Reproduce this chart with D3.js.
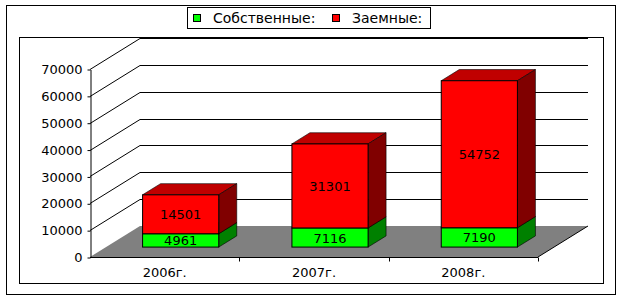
<!DOCTYPE html>
<html>
<head>
<meta charset="utf-8">
<script src="https://cdn.jsdelivr.net/npm/d3@7"></script>
<style>
  body { margin: 0; background: #fff; }
  text { font-family: "DejaVu Sans", sans-serif; }
</style>
</head>
<body>
<script>
// data
const years = ["2006г.", "2007г.", "2008г."]
const own = [4961, 7116, 7190]        // Собственные
const borrowed = [14501, 31301, 54752] // Заемные
const seriesNames = ["Собственные:", "Заемные:"]
const yTicks = [0, 10000, 20000, 30000, 40000, 50000, 60000, 70000]

const W = 625, H = 300
// 3d depth of the floor / walls
const DX = 50, DY = 31
// bar sits between these fractions of depth
const z0 = 0.32, z1 = 0.68

const colors = [
  { front: "#00ff00", side: "#008000", top: "#00c000" },
  { front: "#ff0000", side: "#800000", top: "#c00000" }
]

const svg = d3.select("body").append("svg")
  .attr("width", W).attr("height", H)

// frames
svg.append("rect").attr("x", 6.5).attr("y", 5.5).attr("width", 609).attr("height", 289)
  .attr("fill", "none").attr("stroke", "#000")
svg.append("rect").attr("x", 19.5).attr("y", 37.5).attr("width", 584).attr("height", 246)
  .attr("fill", "#fff").attr("stroke", "#000")

const y = d3.scaleLinear().domain([0, 70000]).range([257, 69])
const x = d3.scaleBand().domain(years).range([90, 538])
  .paddingInner(0.49).paddingOuter(0.245)
const xc = d3.scaleBand().domain(years).range([90, 538])

svg.append("clipPath").attr("id", "plot")
  .append("rect").attr("x", 20).attr("y", 38).attr("width", 583).attr("height", 245)

const walls = svg.append("g").attr("clip-path", "url(#plot)")

// floor
const y0 = y(0)
walls.append("path")
  .attr("d", `M90,${y0}L538,${y0}L${538 + DX},${y0 - DY}L${90 + DX},${y0 - DY}Z`)
  .attr("fill", "#808080")
walls.append("line")
  .attr("x1", 538).attr("y1", y0).attr("x2", 538 + DX).attr("y2", y0 - DY)
  .attr("stroke", "#000")

// gridlines: side wall diagonal + back wall horizontal
yTicks.filter(d => d > 0).forEach(v => {
  const yy = Math.round(y(v)) + 0.5
  walls.append("path")
    .attr("d", `M90,${yy}L${90 + DX},${yy - DY}L${538 + DX},${yy - DY}`)
    .attr("fill", "none").attr("stroke", "#000")
})

// y axis
svg.append("g")
  .attr("transform", "translate(90.5,0.5)")
  .call(d3.axisLeft(y).tickValues(yTicks).tickFormat(d3.format("d"))
    .tickSize(3).tickSizeOuter(0).tickPadding(5))
  .call(g => g.selectAll("text").attr("font-size", 13).attr("fill", "#000")
    .style("font-family", "'DejaVu Sans', sans-serif"))
  .call(g => g.selectAll("line, path").attr("stroke", "#000"))

// category axis
const xa = svg.append("g").attr("transform", `translate(0,${Math.round(y0) + 0.5})`)
xa.append("line").attr("x1", 90).attr("x2", 538).attr("stroke", "#000")
xa.selectAll("line.tick").data(years).enter().append("line")
  .attr("class", "tick")
  .attr("x1", d => Math.round(xc(d) + xc.bandwidth()) + 0.5)
  .attr("x2", d => Math.round(xc(d) + xc.bandwidth()) + 0.5)
  .attr("y1", 0).attr("y2", 4).attr("stroke", "#000")
xa.selectAll("text").data(years).enter().append("text")
  .attr("x", d => xc(d) + xc.bandwidth() / 2)
  .attr("y", 19)
  .attr("text-anchor", "middle").attr("font-size", 13)
  .text(d => d)

// stacked 3d bars
const rows = years.map((yr, i) => ({ year: yr, own: own[i], borrowed: borrowed[i] }))
const stack = d3.stack().keys(["own", "borrowed"])(rows)

const fx = z0 * DX, fy = z0 * DY
const bx = (z1 - z0) * DX, by = (z1 - z0) * DY

stack.forEach((layer, li) => {
  const c = colors[li]
  layer.forEach(seg => {
    const left = x(seg.data.year) + fx
    const right = left + x.bandwidth()
    const top = y(seg[1]) - fy
    const bot = y(seg[0]) - fy
    const g = svg.append("g")
    // top face
    g.append("path")
      .attr("d", `M${left},${top}L${left + bx},${top - by}L${right + bx},${top - by}L${right},${top}Z`)
      .attr("fill", c.top).attr("stroke", "#000").attr("stroke-width", 0.6)
    // side face
    g.append("path")
      .attr("d", `M${right},${top}L${right + bx},${top - by}L${right + bx},${bot - by}L${right},${bot}Z`)
      .attr("fill", c.side).attr("stroke", "#000").attr("stroke-width", 0.6)
    // front face
    g.append("rect")
      .attr("x", left).attr("y", top)
      .attr("width", right - left).attr("height", bot - top)
      .attr("fill", c.front).attr("stroke", "#000").attr("stroke-width", 1)
    g.append("text")
      .attr("x", (left + right) / 2)
      .attr("y", (top + bot) / 2 + 5)
      .attr("text-anchor", "middle").attr("font-size", 13)
      .text(seg[1] - seg[0])
  })
})

// legend
const lg = svg.append("g")
lg.append("rect").attr("x", 187.5).attr("y", 7.5).attr("width", 243).attr("height", 21)
  .attr("fill", "#fff").attr("stroke", "#000")
const lx = [193, 332]
seriesNames.forEach((name, i) => {
  lg.append("rect").attr("x", lx[i] + 0.5).attr("y", 14.5).attr("width", 7).attr("height", 7)
    .attr("fill", colors[i].front).attr("stroke", "#000")
  lg.append("text").attr("x", lx[i] + 20).attr("y", 23)
    .attr("font-size", 14).text(name)
})
</script>
</body>
</html>
